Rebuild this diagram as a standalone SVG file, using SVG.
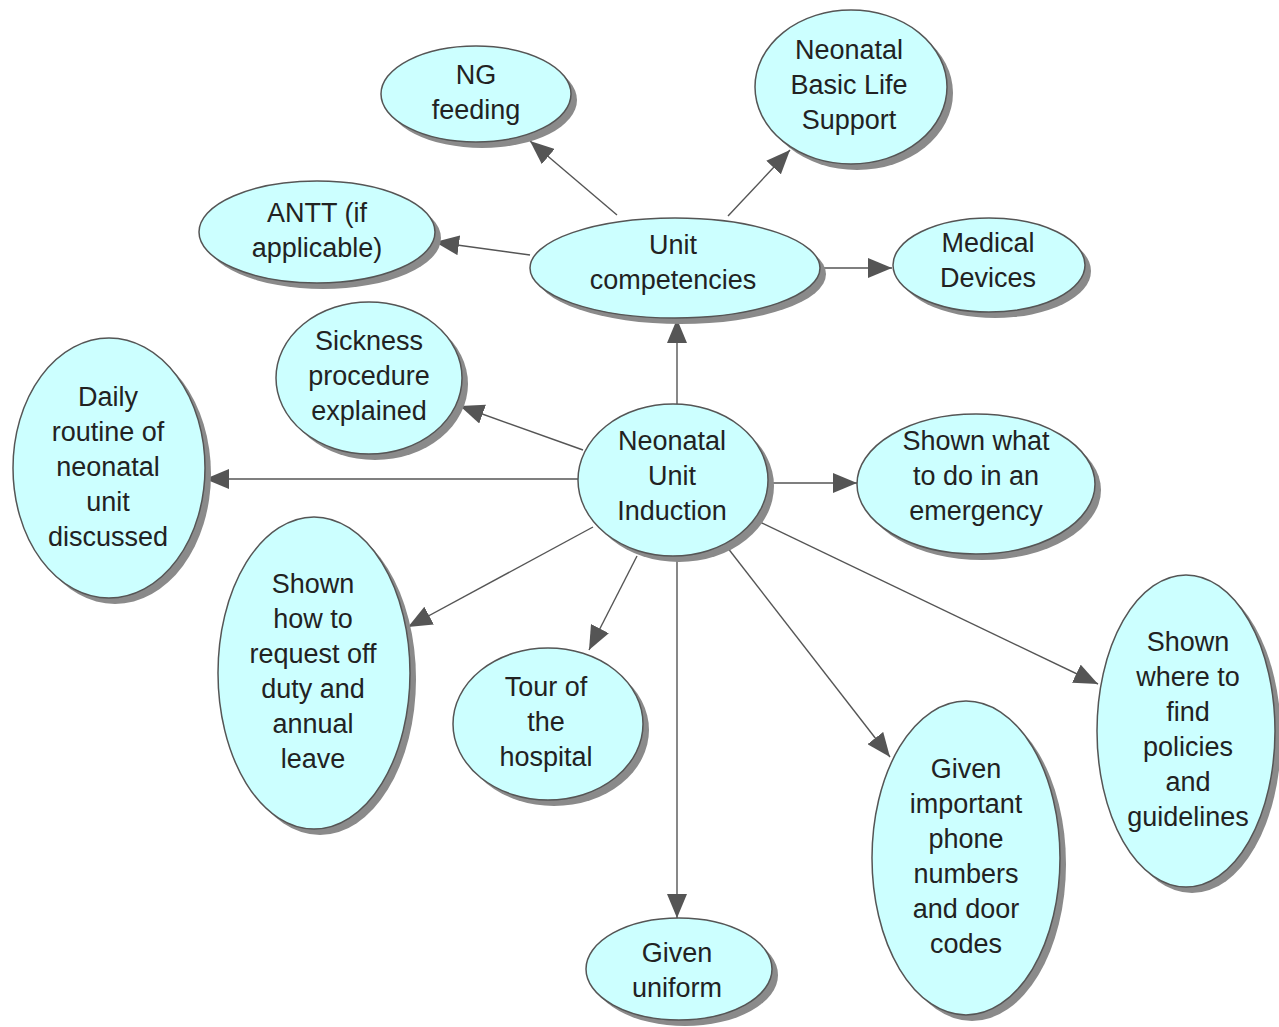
<svg xmlns="http://www.w3.org/2000/svg" width="1279" height="1027" viewBox="0 0 1279 1027">
  <style>
    .shadow { fill: #8a8a8a; }
    .node { fill: #ccffff; stroke: #555; stroke-width: 1.5; }
    .label { font-family: "Liberation Sans", Arial, sans-serif; font-size: 27px; fill: #222; text-anchor: middle; }
    .edge { stroke: #555; stroke-width: 1.4; fill: none; marker-end: url(#arrow); }
  </style>
  <defs>
    <marker id="arrow" viewBox="0 0 24 20" refX="24" refY="10" markerWidth="24" markerHeight="20" markerUnits="userSpaceOnUse" orient="auto">
      <path d="M0,0 L24,10 L0,20 z" fill="#555"/>
    </marker>
  </defs>
  <rect width="1279" height="1027" fill="#fff"/>

  <!-- connectors -->
  <g id="connectors">
    <line class="edge" x1="677" y1="404" x2="677" y2="319"/>
    <line class="edge" x1="617" y1="215" x2="530" y2="141"/>
    <line class="edge" x1="728" y1="216" x2="790" y2="150"/>
    <line class="edge" x1="530" y1="255" x2="435" y2="242"/>
    <line class="edge" x1="820" y1="268" x2="892" y2="268"/>
    <line class="edge" x1="583" y1="450" x2="460" y2="406"/>
    <line class="edge" x1="578" y1="479" x2="205" y2="479"/>
    <line class="edge" x1="768" y1="483" x2="857" y2="483"/>
    <line class="edge" x1="593" y1="527" x2="408" y2="627"/>
    <line class="edge" x1="637" y1="556" x2="589" y2="650"/>
    <line class="edge" x1="677" y1="558" x2="677" y2="918"/>
    <line class="edge" x1="727" y1="547" x2="890" y2="757"/>
    <line class="edge" x1="760" y1="522" x2="1098" y2="684"/>
  </g>

  <g id="unit-competencies">
    <ellipse class="shadow" cx="681" cy="274" rx="145" ry="50"/>
    <ellipse class="node" cx="675" cy="268" rx="145" ry="50"/>
    <text class="label" x="673"><tspan x="673" y="254">Unit</tspan><tspan x="673" y="289">competencies</tspan></text>
  </g>

  <g id="ng-feeding">
    <ellipse class="shadow" cx="482" cy="100" rx="95" ry="48"/>
    <ellipse class="node" cx="476" cy="94" rx="95" ry="48"/>
    <text class="label"><tspan x="476" y="84">NG</tspan><tspan x="476" y="119">feeding</tspan></text>
  </g>

  <g id="neonatal-bls">
    <ellipse class="shadow" cx="857" cy="93" rx="96" ry="77"/>
    <ellipse class="node" cx="851" cy="87" rx="96" ry="77"/>
    <text class="label"><tspan x="849" y="59">Neonatal</tspan><tspan x="849" y="94">Basic Life</tspan><tspan x="849" y="129">Support</tspan></text>
  </g>

  <g id="antt">
    <ellipse class="shadow" cx="323" cy="238" rx="118" ry="51"/>
    <ellipse class="node" cx="317" cy="232" rx="118" ry="51"/>
    <text class="label"><tspan x="317" y="222">ANTT (if</tspan><tspan x="317" y="257">applicable)</tspan></text>
  </g>

  <g id="medical-devices">
    <ellipse class="shadow" cx="995" cy="271" rx="96" ry="47"/>
    <ellipse class="node" cx="989" cy="265" rx="96" ry="47"/>
    <text class="label"><tspan x="988" y="252">Medical</tspan><tspan x="988" y="287">Devices</tspan></text>
  </g>

  <g id="sickness-procedure">
    <ellipse class="shadow" cx="375" cy="384" rx="93" ry="76"/>
    <ellipse class="node" cx="369" cy="378" rx="93" ry="76"/>
    <text class="label"><tspan x="369" y="350">Sickness</tspan><tspan x="369" y="385">procedure</tspan><tspan x="369" y="420">explained</tspan></text>
  </g>

  <g id="daily-routine">
    <ellipse class="shadow" cx="115" cy="474" rx="96" ry="130"/>
    <ellipse class="node" cx="109" cy="468" rx="96" ry="130"/>
    <text class="label"><tspan x="108" y="406">Daily</tspan><tspan x="108" y="441">routine of</tspan><tspan x="108" y="476">neonatal</tspan><tspan x="108" y="511">unit</tspan><tspan x="108" y="546">discussed</tspan></text>
  </g>

  <g id="neonatal-unit-induction">
    <ellipse class="shadow" cx="679" cy="486" rx="95" ry="76"/>
    <ellipse class="node" cx="673" cy="480" rx="95" ry="76"/>
    <text class="label"><tspan x="672" y="450">Neonatal</tspan><tspan x="672" y="485">Unit</tspan><tspan x="672" y="520">Induction</tspan></text>
  </g>

  <g id="emergency">
    <ellipse class="shadow" cx="982" cy="490" rx="119" ry="70"/>
    <ellipse class="node" cx="976" cy="484" rx="119" ry="70"/>
    <text class="label"><tspan x="976" y="450">Shown what</tspan><tspan x="976" y="485">to do in an</tspan><tspan x="976" y="520">emergency</tspan></text>
  </g>

  <g id="request-leave">
    <ellipse class="shadow" cx="320" cy="679" rx="96" ry="156"/>
    <ellipse class="node" cx="314" cy="673" rx="96" ry="156"/>
    <text class="label"><tspan x="313" y="593">Shown</tspan><tspan x="313" y="628">how to</tspan><tspan x="313" y="663">request off</tspan><tspan x="313" y="698">duty and</tspan><tspan x="313" y="733">annual</tspan><tspan x="313" y="768">leave</tspan></text>
  </g>

  <g id="hospital-tour">
    <ellipse class="shadow" cx="554" cy="730" rx="95" ry="76"/>
    <ellipse class="node" cx="548" cy="724" rx="95" ry="76"/>
    <text class="label"><tspan x="546" y="696">Tour of</tspan><tspan x="546" y="731">the</tspan><tspan x="546" y="766">hospital</tspan></text>
  </g>

  <g id="given-uniform">
    <ellipse class="shadow" cx="685" cy="975" rx="93" ry="51"/>
    <ellipse class="node" cx="679" cy="969" rx="93" ry="51"/>
    <text class="label"><tspan x="677" y="962">Given</tspan><tspan x="677" y="997">uniform</tspan></text>
  </g>

  <g id="phone-numbers">
    <ellipse class="shadow" cx="972" cy="864" rx="94" ry="157"/>
    <ellipse class="node" cx="966" cy="858" rx="94" ry="157"/>
    <text class="label"><tspan x="966" y="778">Given</tspan><tspan x="966" y="813">important</tspan><tspan x="966" y="848">phone</tspan><tspan x="966" y="883">numbers</tspan><tspan x="966" y="918">and door</tspan><tspan x="966" y="953">codes</tspan></text>
  </g>

  <g id="policies-guidelines">
    <ellipse class="shadow" cx="1192" cy="737" rx="89" ry="156"/>
    <ellipse class="node" cx="1186" cy="731" rx="89" ry="156"/>
    <text class="label"><tspan x="1188" y="651">Shown</tspan><tspan x="1188" y="686">where to</tspan><tspan x="1188" y="721">find</tspan><tspan x="1188" y="756">policies</tspan><tspan x="1188" y="791">and</tspan><tspan x="1188" y="826">guidelines</tspan></text>
  </g>
</svg>
